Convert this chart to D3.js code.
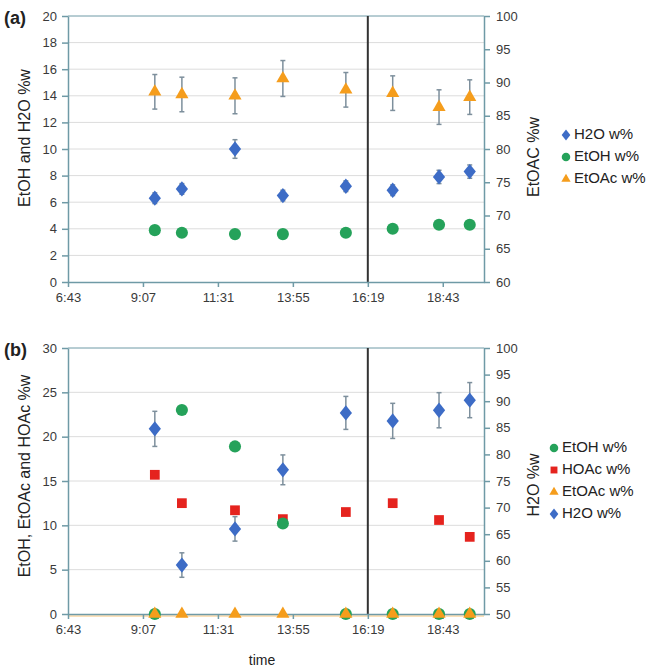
<!DOCTYPE html>
<html>
<head>
<meta charset="utf-8">
<script src="https://cdn.jsdelivr.net/npm/d3@7"></script>
<style>
  body { margin: 0; background: #fff; }
  text { font-family: "Liberation Sans", Arial, sans-serif; }
</style>
</head>
<body>
<div id="root"></div>
<script>
// sample times (clock time)
const times = ["9:30", "10:22", "12:04", "13:36", "15:37", "17:07", "18:36", "19:35"];

// panel (a)
const aH2O = [6.3, 7.0, 10.0, 6.5, 7.2, 6.9, 7.9, 8.3];
const aH2OErr = [0.4, 0.4, 0.7, 0.4, 0.4, 0.4, 0.5, 0.5];
const aEtOH = [3.9, 3.7, 3.6, 3.6, 3.7, 4.0, 4.3, 4.3];
const aEtOAc = [88.6, 88.2, 88.0, 90.6, 88.9, 88.4, 86.3, 87.8];
const aEtOAcErr = [2.6, 2.6, 2.7, 2.7, 2.6, 2.6, 2.6, 2.6];

// panel (b)
const bEtOH = [0, 23.0, 18.9, 10.2, 0, 0, 0, 0];
const bHOAc = [15.7, 12.5, 11.7, 10.7, 11.5, 12.5, 10.6, 8.7];
const bEtOAc = [0, 0, 0, 0, 0, 0, 0, 0];
const bH2O = [84.8, 59.2, 66.0, 77.1, 87.8, 86.3, 88.3, 90.2];
const bH2OErr = [3.3, 2.3, 2.3, 2.8, 3.1, 3.3, 3.3, 3.3];

// axis ticks (fraction of a day, Excel style)
const xTicks = [0.28, 0.38, 0.48, 0.58, 0.68, 0.78];
const xDomain = [0.28, 0.835];
const splitTime = 0.68;

const W = 651, H = 671;
const axisCol = "#6f9aa6", gridCol = "#dcdcdc", errCol = "#7d8f9c";
const cBlue = "#3d6cc6", cGreen = "#25a25a", cOrange = "#f59d1c", cRed = "#e5231e";

const dayFrac = (s) => { const [h, m] = s.split(":").map(Number); return (h * 60 + m) / 1440; };
const fmtTime = (d) => { const mins = Math.floor(d * 1440 + 1e-6); return Math.floor(mins / 60) + ":" + String(mins % 60).padStart(2, "0"); };
const tDays = times.map(dayFrac);

const svg = d3.select("#root").append("svg").attr("width", W).attr("height", H);

function panel(opt) {
  const x = d3.scaleLinear().domain(xDomain).range([68, 484]);
  const yL = d3.scaleLinear().domain(opt.left).range([opt.bottom, opt.top]);
  const yR = d3.scaleLinear().domain(opt.right).range([opt.bottom, opt.top]);
  const g = svg.append("g");

  // grid
  g.append("g").selectAll("line").data(opt.grid).enter().append("line")
    .attr("x1", 68).attr("x2", 484)
    .attr("y1", (d) => yL(d)).attr("y2", (d) => yL(d))
    .attr("stroke", gridCol).attr("stroke-width", 1);

  // top border
  g.append("line").attr("x1", 68).attr("x2", 484).attr("y1", opt.top).attr("y2", opt.top)
    .attr("stroke", axisCol).attr("stroke-width", 1);

  // split line
  g.append("line").attr("x1", x(splitTime)).attr("x2", x(splitTime))
    .attr("y1", opt.top).attr("y2", opt.bottom)
    .attr("stroke", "#333").attr("stroke-width", 2);

  // axes
  const styleAxis = (a) => {
    a.selectAll("path,line").attr("stroke", axisCol).attr("stroke-width", 1.5);
    a.selectAll("text").attr("fill", "#3a3a3a").style("font-size", "13px");
  };
  g.append("g").attr("transform", `translate(68,0)`)
    .call(d3.axisLeft(yL).tickValues(opt.leftTicks).tickSize(6).tickSizeOuter(0).tickPadding(5))
    .call(styleAxis);
  g.append("g").attr("transform", `translate(484,0)`)
    .call(d3.axisRight(yR).tickValues(opt.rightTicks).tickSize(6).tickSizeOuter(0).tickPadding(6))
    .call(styleAxis);
  if (opt.zeroLine) {
    g.append("line").attr("x1", 68).attr("x2", 484).attr("y1", opt.bottom + 2).attr("y2", opt.bottom + 2)
      .attr("stroke", cOrange).attr("stroke-width", 1).attr("opacity", 0.6);
  }
  g.append("g").attr("transform", `translate(0,${opt.bottom})`)
    .call(d3.axisBottom(x).tickValues(xTicks).tickFormat(fmtTime).tickSize(5).tickSizeOuter(0).tickPadding(6))
    .call(styleAxis);

  // titles
  g.append("text").attr("transform", `translate(26,${opt.leftTitleY}) rotate(-90)`)
    .attr("text-anchor", "middle").attr("dominant-baseline", "middle")
    .style("font-size", "16px").attr("fill", "#222").text(opt.leftTitle);
  g.append("text").attr("transform", `translate(535,${opt.rightTitleY}) rotate(-90)`)
    .attr("text-anchor", "middle").attr("dominant-baseline", "middle")
    .style("font-size", "16px").attr("fill", "#222").text(opt.rightTitle);
  g.append("text").attr("x", 4).attr("y", opt.top + 8)
    .style("font-size", "18px").style("font-weight", "bold").attr("fill", "#222").text(opt.label);

  // series
  opt.series.forEach((s) => {
    const ys = s.axis === "right" ? yR : yL;
    const data = s.values.map((v, i) => ({ t: tDays[i], v: v, e: s.err ? s.err[i] : 0 }));
    if (s.err) {
      const eg = g.append("g").selectAll("g").data(data).enter().append("g");
      eg.append("line").attr("x1", (d) => x(d.t)).attr("x2", (d) => x(d.t))
        .attr("y1", (d) => ys(d.v - d.e)).attr("y2", (d) => ys(d.v + d.e))
        .attr("stroke", errCol).attr("stroke-width", 1.5);
      [-1, 1].forEach((k) => {
        eg.append("line").attr("x1", (d) => x(d.t) - 2.5).attr("x2", (d) => x(d.t) + 2.5)
          .attr("y1", (d) => ys(d.v + k * d.e)).attr("y2", (d) => ys(d.v + k * d.e))
          .attr("stroke", errCol).attr("stroke-width", 1.5);
      });
    }
    g.append("g").selectAll("path").data(data).enter().append("path")
      .attr("transform", (d) => `translate(${x(d.t)},${ys(d.v)})`)
      .attr("d", d3.symbol().type(s.shape).size(s.size))
      .attr("fill", s.color);
  });

  // legend
  opt.series.slice().sort((a, b) => a.legend - b.legend).forEach((s, i) => {
    const ly = opt.legendY + i * opt.legendStep;
    svg.append("path").attr("transform", `translate(${opt.legendX},${ly})`)
      .attr("d", d3.symbol().type(s.shape).size(s.size * 0.5)).attr("fill", s.color);
    svg.append("text").attr("x", opt.legendX + 8).attr("y", ly).attr("dominant-baseline", "middle")
      .style("font-size", "15px").attr("fill", "#222").text(s.name);
  });
}

const diamond = { draw(ctx, size) { const r = Math.sqrt(size) / 1.6; ctx.moveTo(0, -r); ctx.lineTo(r * 0.8, 0); ctx.lineTo(0, r); ctx.lineTo(-r * 0.8, 0); ctx.closePath(); } };

panel({
  top: 16, bottom: 282, left: [0, 20], right: [60, 100],
  leftTicks: d3.range(0, 21, 2), rightTicks: d3.range(60, 101, 5),
  grid: d3.range(2, 20, 2),
  leftTitle: "EtOH and H2O %w", leftTitleY: 138,
  rightTitle: "EtOAC %w", rightTitleY: 157,
  label: "(a)",
  legendX: 566, legendY: 135, legendStep: 22,
  series: [
    { name: "EtOAc w%", values: aEtOAc, err: aEtOAcErr, axis: "right", shape: d3.symbolTriangle, size: 75, color: cOrange, legend: 2 },
    { name: "EtOH w%", values: aEtOH, axis: "left", shape: d3.symbolCircle, size: 115, color: cGreen, legend: 1 },
    { name: "H2O w%", values: aH2O, err: aH2OErr, axis: "left", shape: diamond, size: 150, color: cBlue, legend: 0 }
  ]
});

panel({
  top: 348, bottom: 614, left: [0, 30], right: [50, 100],
  leftTicks: d3.range(0, 31, 5), rightTicks: d3.range(50, 101, 5),
  grid: [5, 10, 15, 20, 25],
  leftTitle: "EtOH, EtOAc and HOAc %w", leftTitleY: 476,
  rightTitle: "H2O %w", rightTitleY: 485,
  label: "(b)", zeroLine: true,
  legendX: 554, legendY: 448, legendStep: 22,
  series: [
    { name: "H2O w%", values: bH2O, err: bH2OErr, axis: "right", shape: diamond, size: 150, color: cBlue, legend: 3 },
    { name: "HOAc w%", values: bHOAc, axis: "left", shape: d3.symbolSquare, size: 95, color: cRed, legend: 1 },
    { name: "EtOH w%", values: bEtOH, axis: "left", shape: d3.symbolCircle, size: 115, color: cGreen, legend: 0 },
    { name: "EtOAc w%", values: bEtOAc, axis: "left", shape: d3.symbolTriangle, size: 75, color: cOrange, legend: 2 }
  ]
});

svg.append("text").attr("x", 262).attr("y", 665).attr("text-anchor", "middle")
  .style("font-size", "14px").attr("fill", "#222").text("time");
</script>
</body>
</html>
